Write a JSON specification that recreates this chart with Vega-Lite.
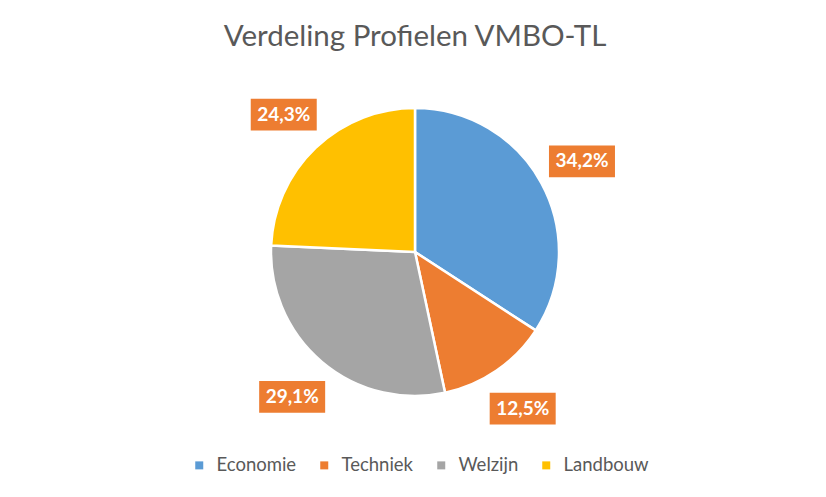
{
  "$schema": "https://vega.github.io/schema/vega-lite/v6.json",
  "description": "Verdeling Profielen VMBO-TL (taartdiagram)",
  "autosize": "none",
  "padding": {"left": 4, "top": 90, "right": 0, "bottom": 83},
  "width": 822,
  "height": 324,
  "title": {
    "text": "Verdeling Profielen VMBO-TL",
    "font": "Lato",
    "fontSize": 29.5,
    "fontWeight": "normal",
    "color": "#595959",
    "anchor": "middle",
    "offset": 38
  },
  "data": {
    "values": [
      {"profiel": "Economie", "aandeel": 0.342, "volgorde": 1},
      {"profiel": "Techniek", "aandeel": 0.125, "volgorde": 2},
      {"profiel": "Welzijn", "aandeel": 0.291, "volgorde": 3},
      {"profiel": "Landbouw", "aandeel": 0.243, "volgorde": 4}
    ]
  },
  "layer": [
    {
      "mark": {"type": "arc", "outerRadius": 144, "stroke": "white", "strokeWidth": 2.5},
      "encoding": {
        "theta": {"field": "aandeel", "type": "quantitative", "stack": true},
        "order": {"field": "volgorde", "type": "quantitative"},
        "color": {
          "field": "profiel",
          "type": "nominal",
          "sort": ["Economie", "Techniek", "Welzijn", "Landbouw"],
          "scale": {
            "domain": ["Economie", "Techniek", "Welzijn", "Landbouw"],
            "range": ["#5B9BD5", "#ED7D31", "#A5A5A5", "#FFC000"]
          },
          "legend": {
            "title": null,
            "orient": "none",
            "legendX": 186,
            "legendY": 366,
            "direction": "horizontal",
            "symbolType": "square",
            "symbolSize": 64,
            "symbolStrokeWidth": 0,
            "symbolOpacity": 1,
            "labelFont": "Lato",
            "labelFontSize": 18.5,
            "labelColor": "#595959",
            "labelOffset": 8,
            "columnPadding": 18
          }
        }
      }
    },
    {
      "transform": [
        {"stack": "aandeel", "groupby": [], "sort": [{"field": "volgorde"}], "offset": "normalize", "as": ["a0", "a1"]},
        {"calculate": "(datum.a0 + datum.a1) * PI", "as": "hoek"},
        {"calculate": "sin(datum.hoek) * 190", "as": "lx"},
        {"calculate": "cos(datum.hoek) * 190", "as": "ly"}
      ],
      "encoding": {
        "x": {"field": "lx", "type": "quantitative", "scale": {"domain": [-411, 411], "nice": false, "zero": false}, "axis": null},
        "y": {"field": "ly", "type": "quantitative", "scale": {"domain": [-162, 162], "nice": false, "zero": false}, "axis": null}
      },
      "layer": [
        {
          "mark": {
            "type": "point",
            "shape": "M-1,-0.48L1,-0.48L1,0.48L-1,0.48Z",
            "size": 4356,
            "filled": true,
            "color": "#ED7D31",
            "opacity": 1,
            "strokeWidth": 0
          }
        },
        {
          "mark": {
            "type": "text",
            "color": "white",
            "font": "Lato",
            "fontSize": 19,
            "fontWeight": "bold",
            "align": "center",
            "baseline": "middle"
          },
          "encoding": {
            "text": {"field": "aandeel", "type": "quantitative", "format": ".1%"}
          }
        }
      ]
    }
  ],
  "config": {
    "view": {"stroke": null},
    "locale": {
      "number": {"decimal": ",", "thousands": ".", "grouping": [3], "currency": ["€ ", ""]}
    }
  }
}
